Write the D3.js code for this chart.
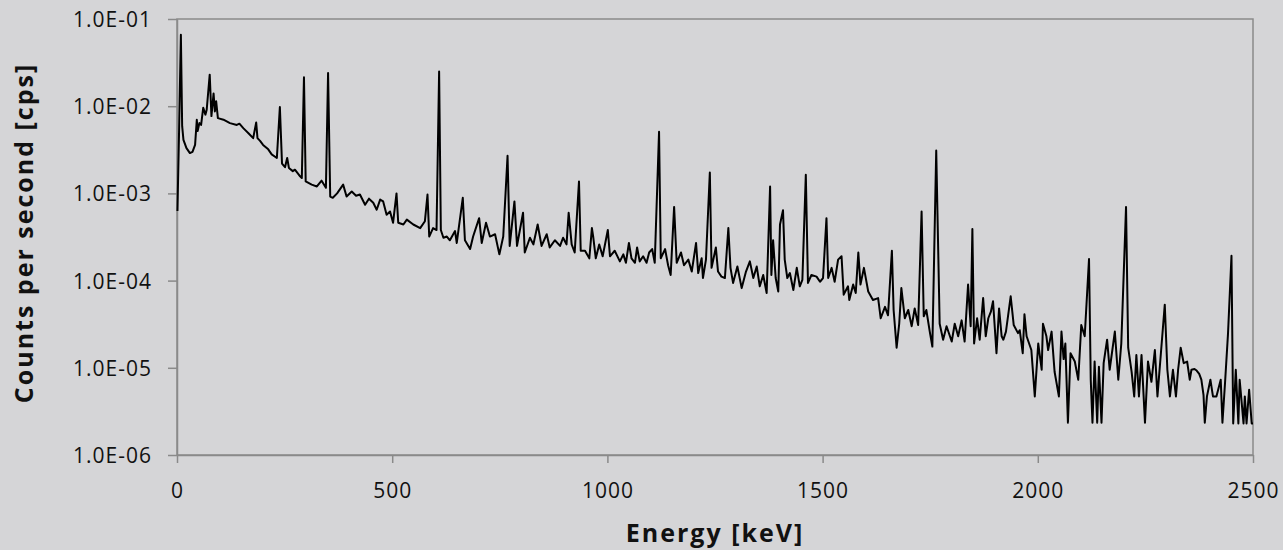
<!DOCTYPE html>
<html>
<head>
<meta charset="utf-8">
<script src="https://cdn.jsdelivr.net/npm/d3@7/dist/d3.min.js"></script>
<style>
  html, body { margin: 0; padding: 0; background: #d5d5d7; }
  svg { display: block; }
  .tick text { font-family: "Open Sans", "Noto Sans", sans-serif; font-size: 21px; letter-spacing: 1px; fill: #111; }
  .axis-title { font-family: "Open Sans", "Noto Sans", sans-serif; font-size: 25px; font-weight: 700; letter-spacing: 2px; fill: #111; }
</style>
</head>
<body>
<svg id="chart" width="1283" height="550"></svg>
<script>
// Gamma-ray spectrum: energy (keV) vs count rate (counts per second)
const energyKeV = [
  1, 5, 9, 12, 15, 22, 30, 36, 42, 46, 48, 52, 56, 61, 66, 69, 76, 80, 85, 88,
  91, 95, 108, 123, 139, 145, 154, 166, 177, 184, 187, 193, 200, 212, 220, 232, 239, 244, 251, 256,
  260, 269, 274, 286, 290, 295, 299, 313, 325, 336, 346, 351, 356, 362, 372, 386, 394, 406, 416, 425,
  437, 446, 456, 464, 472, 479, 487, 495, 502, 510, 514, 526, 534, 549, 565, 576, 582, 586, 595, 603,
  609, 613, 619, 627, 634, 646, 650, 664, 669, 681, 688, 702, 708, 718, 727, 739, 749, 758, 768, 773,
  784, 790, 804, 808, 820, 828, 838, 847, 859, 866, 878, 890, 897, 905, 910, 917, 924, 934, 938, 948,
  958, 964, 967, 973, 981, 989, 1001, 1006, 1017, 1029, 1037, 1043, 1050, 1056, 1064, 1069, 1075, 1083, 1091, 1097,
  1104, 1110, 1120, 1124, 1134, 1141, 1147, 1155, 1161, 1171, 1178, 1188, 1196, 1206, 1211, 1219, 1222, 1229, 1238, 1242,
  1252, 1257, 1265, 1273, 1281, 1286, 1292, 1302, 1312, 1322, 1331, 1339, 1347, 1354, 1362, 1370, 1378, 1381, 1385, 1391,
  1397, 1401, 1408, 1412, 1418, 1424, 1432, 1440, 1447, 1453, 1461, 1466, 1474, 1486, 1494, 1501, 1509, 1513, 1521, 1528,
  1536, 1544, 1549, 1559, 1562, 1571, 1577, 1583, 1588, 1596, 1606, 1617, 1629, 1635, 1645, 1652, 1661, 1665, 1672, 1678,
  1683, 1691, 1699, 1707, 1714, 1722, 1730, 1735, 1741, 1749, 1755, 1764, 1772, 1780, 1788, 1800, 1807, 1815, 1823, 1830,
  1838, 1844, 1848, 1852, 1859, 1865, 1873, 1879, 1885, 1891, 1896, 1904, 1910, 1916, 1920, 1926, 1937, 1944, 1954, 1958,
  1965, 1969, 1974, 1985, 1993, 2001, 2009, 2012, 2020, 2024, 2032, 2039, 2049, 2055, 2060, 2064, 2070, 2076, 2086, 2094,
  2101, 2109, 2119, 2123, 2127, 2132, 2138, 2142, 2148, 2153, 2161, 2167, 2179, 2187, 2194, 2205, 2210, 2218, 2224, 2229,
  2235, 2241, 2249, 2256, 2264, 2272, 2278, 2286, 2295, 2301, 2307, 2314, 2321, 2326, 2332, 2339, 2347, 2353, 2357, 2364,
  2369, 2375, 2380, 2385, 2388, 2393, 2401, 2407, 2415, 2425, 2429, 2435, 2442, 2450, 2454, 2460, 2466, 2469, 2478, 2481,
  2485, 2491, 2497, 2500
];

const countsPerSecond = [
  6.3e-4, 5.7e-3, 6.6e-2, 5.9e-3, 4.1e-3, 3.3e-3, 2.9e-3, 3.0e-3, 3.6e-3, 7.0e-3, 5.2e-3, 6.4e-3, 6.1e-3, 9.6e-3, 8.0e-3, 9.1e-3, 2.3e-2, 7.7e-3, 1.4e-2, 8.7e-3,
  1.14e-2, 7.3e-3, 7.0e-3, 6.4e-3, 6.1e-3, 6.3e-3, 5.6e-3, 4.9e-3, 4.3e-3, 6.5e-3, 4.3e-3, 4.0e-3, 3.6e-3, 3.2e-3, 2.8e-3, 2.55e-3, 9.8e-3, 2.2e-3, 2.0e-3, 2.55e-3,
  1.96e-3, 1.8e-3, 1.87e-3, 1.57e-3, 1.5e-3, 2.15e-2, 1.37e-3, 1.26e-3, 1.2e-3, 1.4e-3, 1.16e-3, 2.4e-2, 9.2e-4, 8.9e-4, 1.0e-3, 1.26e-3, 9.2e-4, 1.05e-3, 9.4e-4, 9.7e-4,
  7.4e-4, 8.7e-4, 7.8e-4, 6.5e-4, 8.5e-4, 8.1e-4, 5.7e-4, 6.2e-4, 4.6e-4, 1.0e-3, 4.6e-4, 4.4e-4, 5.0e-4, 4.4e-4, 4.0e-4, 4.8e-4, 9.7e-4, 3.2e-4, 4.0e-4, 3.8e-4,
  2.5e-2, 3.8e-4, 3.1e-4, 3.2e-4, 2.9e-4, 3.7e-4, 2.7e-4, 8.9e-4, 2.9e-4, 2.3e-4, 3.2e-4, 5.2e-4, 2.7e-4, 4.6e-4, 3.2e-4, 3.4e-4, 2.0e-4, 3.2e-4, 2.7e-3, 2.5e-4,
  8.1e-4, 2.5e-4, 6.0e-4, 2.1e-4, 3.1e-4, 2.6e-4, 4.4e-4, 2.5e-4, 3.4e-4, 2.4e-4, 2.9e-4, 2.5e-4, 3.1e-4, 2.6e-4, 6.0e-4, 2.6e-4, 2.1e-4, 1.37e-3, 2.2e-4, 2.2e-4,
  1.8e-4, 4.0e-4, 3.2e-4, 1.8e-4, 2.6e-4, 1.9e-4, 3.8e-4, 1.9e-4, 2.2e-4, 1.66e-4, 2.0e-4, 1.6e-4, 2.7e-4, 1.8e-4, 1.6e-4, 2.4e-4, 1.66e-4, 1.9e-4, 1.6e-4, 2.1e-4,
  2.3e-4, 1.6e-4, 5.1e-3, 1.8e-4, 2.3e-4, 1.5e-4, 1.16e-4, 7.0e-4, 1.6e-4, 2.1e-4, 1.5e-4, 1.74e-4, 1.27e-4, 2.7e-4, 1.22e-4, 1.8e-4, 1.07e-4, 1.74e-4, 1.74e-3, 1.4e-4,
  2.4e-4, 1.27e-4, 1.11e-4, 1.07e-4, 4.0e-4, 1.4e-4, 9.4e-5, 1.45e-4, 8.2e-5, 1.27e-4, 1.66e-4, 1.07e-4, 1.45e-4, 8.6e-5, 1.16e-4, 7.2e-5, 1.2e-3, 1.16e-4, 2.9e-4, 1.07e-4,
  7.5e-5, 4.4e-4, 6.4e-4, 1.74e-4, 1.07e-4, 1.22e-4, 7.8e-5, 1.4e-4, 8.6e-5, 1.02e-4, 1.64e-3, 9.4e-5, 1.16e-4, 1.11e-4, 9.7e-5, 1.07e-4, 5.2e-4, 1.07e-4, 1.4e-4, 9.7e-5,
  1.74e-4, 1.9e-4, 6.9e-5, 8.6e-5, 6.0e-5, 9.0e-5, 7.2e-5, 2.1e-4, 9.0e-5, 1.4e-4, 7.5e-5, 6.0e-5, 6.3e-5, 3.7e-5, 5.0e-5, 4.0e-5, 2.2e-4, 4.6e-5, 1.7e-5, 3.2e-5,
  8.2e-5, 3.7e-5, 4.6e-5, 3.0e-5, 4.8e-5, 3.1e-5, 6.2e-4, 3.9e-5, 4.6e-5, 2.6e-5, 1.75e-5, 3.1e-3, 3.2e-5, 2.1e-5, 3.0e-5, 2.0e-5, 3.2e-5, 2.3e-5, 3.5e-5, 2.0e-5,
  9.0e-5, 3.0e-5, 3.9e-4, 1.9e-5, 3.7e-5, 2.1e-5, 6.3e-5, 2.3e-5, 3.7e-5, 4.4e-5, 5.8e-5, 1.47e-5, 4.8e-5, 2.3e-5, 2.1e-5, 2.6e-5, 6.6e-5, 3.1e-5, 2.5e-5, 2.7e-5,
  1.47e-5, 4.1e-5, 2.3e-5, 1.6e-5, 4.7e-6, 1.9e-5, 9.5e-6, 3.2e-5, 2.3e-5, 1.6e-5, 2.6e-5, 9.0e-6, 4.7e-6, 2.6e-5, 1.26e-5, 1.9e-5, 2.35e-6, 1.47e-5, 1.18e-5, 7.3e-6,
  3.1e-5, 2.3e-5, 1.77e-4, 7.3e-6, 2.35e-6, 1.18e-5, 2.35e-6, 1.03e-5, 2.35e-6, 1.13e-5, 2.1e-5, 9.5e-6, 2.6e-5, 7.3e-6, 1.9e-5, 7.0e-4, 1.7e-5, 9.0e-6, 4.7e-6, 1.4e-5,
  4.7e-6, 1.4e-5, 2.35e-6, 1.18e-5, 6.9e-6, 1.6e-5, 4.7e-6, 1.47e-5, 5.3e-5, 9.5e-6, 4.7e-6, 9.5e-6, 4.7e-6, 9.5e-6, 1.7e-5, 1.13e-5, 1.18e-5, 7.3e-6, 9.5e-6, 9.7e-6,
  9.3e-6, 8.5e-6, 7.3e-6, 4.9e-6, 2.35e-6, 4.7e-6, 7.3e-6, 4.7e-6, 4.7e-6, 7.3e-6, 2.35e-6, 6.7e-6, 2.5e-5, 1.93e-4, 2.3e-6, 9.5e-6, 2.3e-6, 7.3e-6, 2.3e-6, 4.7e-6,
  2.3e-6, 5.6e-6, 2.3e-6, 2.3e-6
];

const xTickValues = [0, 500, 1000, 1500, 2000, 2500];
const yTickValues = [1e-6, 1e-5, 1e-4, 1e-3, 1e-2, 1e-1];
const yTickLabels = ["1.0E-06", "1.0E-05", "1.0E-04", "1.0E-03", "1.0E-02", "1.0E-01"];

const svg = d3.select("#chart");
const W = 1283, H = 550;
const plot = { left: 177, top: 19, right: 1253, bottom: 455 };

svg.append("rect").attr("width", W).attr("height", H).attr("fill", "#d5d5d7");

const x = d3.scaleLinear().domain([0, 2500]).range([plot.left, plot.right]);
const y = d3.scaleLog().domain([1e-6, 1e-1]).range([plot.bottom, plot.top]);

const axisColor = "#8a8a8a";

// plot frame
svg.append("rect")
  .attr("x", plot.left).attr("y", plot.top)
  .attr("width", plot.right - plot.left).attr("height", plot.bottom - plot.top)
  .attr("fill", "none").attr("stroke", axisColor).attr("stroke-width", 1.5);

const yAxis = svg.append("g")
  .attr("transform", `translate(${plot.left},0)`)
  .call(d3.axisLeft(y)
    .tickValues(yTickValues)
    .tickFormat((d, i) => yTickLabels[i])
    .tickSize(9).tickSizeOuter(0).tickPadding(16));

const xAxis = svg.append("g")
  .attr("transform", `translate(0,${plot.bottom})`)
  .call(d3.axisBottom(x)
    .tickValues(xTickValues)
    .tickFormat(d3.format("d"))
    .tickSize(8).tickSizeOuter(0).tickPadding(20));

[xAxis, yAxis].forEach(g => {
  g.select(".domain").attr("stroke", axisColor).attr("stroke-width", 1.5);
  g.selectAll(".tick line").attr("stroke", axisColor).attr("stroke-width", 1.5);
  g.attr("font-family", null).attr("font-size", null);
});
yAxis.selectAll(".tick text").attr("dy", "0.36em");

// spectrum trace
const points = energyKeV.map((e, i) => [e, countsPerSecond[i]]);
const line = d3.line()
  .x(d => x(d[0]))
  .y(d => y(d[1]));

svg.append("path")
  .datum(points)
  .attr("fill", "none")
  .attr("stroke", "#000")
  .attr("stroke-width", 2)
  .attr("stroke-linejoin", "round")
  .attr("d", line);

// axis titles
svg.append("text")
  .attr("class", "axis-title")
  .attr("x", (plot.left + plot.right) / 2)
  .attr("y", 542)
  .attr("text-anchor", "middle")
  .text("Energy [keV]");

svg.append("text")
  .attr("class", "axis-title")
  .attr("transform", `translate(33,${(plot.top + plot.bottom) / 2 - 4}) rotate(-90)`)
  .attr("text-anchor", "middle")
  .text("Counts per second [cps]");
</script>
</body>
</html>
